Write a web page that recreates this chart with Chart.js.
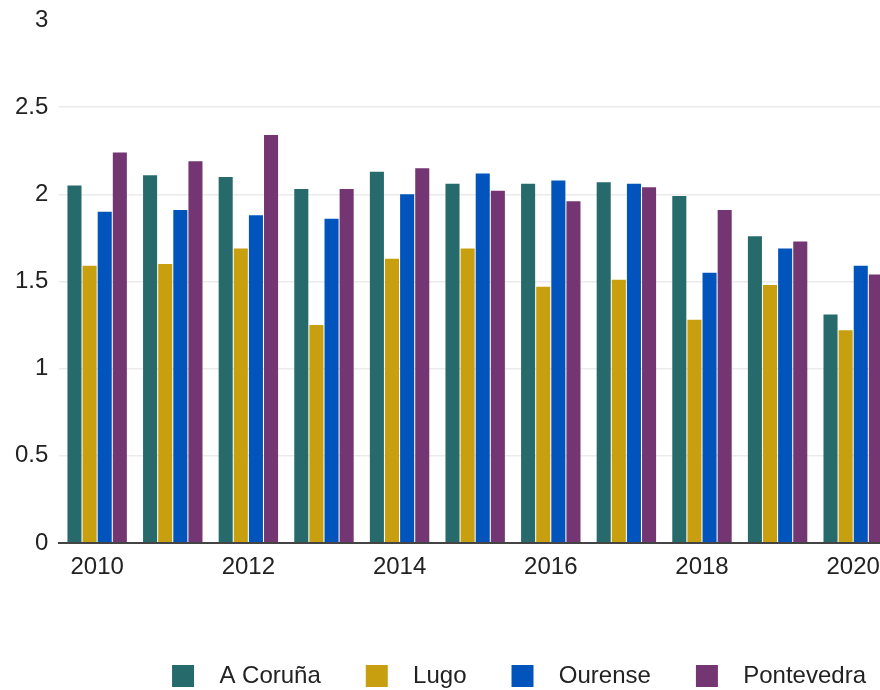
<!DOCTYPE html>
<html>
<head>
<meta charset="utf-8">
<script src="https://cdn.jsdelivr.net/npm/chart.js@4"></script>
<style>
    html, body { margin: 0; padding: 0; background: #fff; overflow: hidden; }
    #wrap { width: 892px; height: 690px; position: relative; }
</style>
</head>
<body>
<div id="wrap"><canvas id="provChart"></canvas></div>
<script>
const years = ["2010", "2011", "2012", "2013", "2014", "2015", "2016", "2017", "2018", "2019", "2020"];
const seriesNames = ["A Coruña", "Lugo", "Ourense", "Pontevedra"];
const aCoruna = [2.05, 2.11, 2.10, 2.03, 2.13, 2.06, 2.06, 2.07, 1.99, 1.76, 1.31];
const lugo = [1.59, 1.60, 1.69, 1.25, 1.63, 1.69, 1.47, 1.51, 1.28, 1.48, 1.22];
const ourense = [1.90, 1.91, 1.88, 1.86, 2.00, 2.12, 2.08, 2.06, 1.55, 1.69, 1.59];
const pontevedra = [2.24, 2.19, 2.34, 2.03, 2.15, 2.02, 1.96, 2.04, 1.91, 1.73, 1.54];
const yTicks = [0, 0.5, 1, 1.5, 2, 2.5, 3];

const colors = ["#266a6b", "#c8a00f", "#0254bd", "#733672"];

Chart.defaults.font.family = "'Liberation Sans', Arial, sans-serif";
Chart.defaults.font.size = 24;
Chart.defaults.color = "#222";

function makeSet(i, values) {
    return {
        label: seriesNames[i],
        data: values,
        backgroundColor: colors[i],
        borderWidth: 0,
        categoryPercentage: 0.8,
        barPercentage: 0.93
    };
}

const ctx = document.getElementById("provChart").getContext("2d");

new Chart(ctx, {
    type: "bar",
    data: {
        labels: years,
        datasets: [
            makeSet(0, aCoruna),
            makeSet(1, lugo),
            makeSet(2, ourense),
            makeSet(3, pontevedra)
        ]
    },
    options: {
        responsive: true,
        maintainAspectRatio: false,
        animation: false,
        layout: { padding: { top: 8, left: 4, right: 1, bottom: -8 } },
        scales: {
            x: {
                grid: { display: false },
                border: { display: true, color: "#444", width: 2 },
                ticks: {
                    autoSkip: false,
                    maxRotation: 0,
                    padding: 2,
                    callback: function (val, i) { return i % 2 === 0 ? years[i] : ""; }
                },
                afterFit: function (scale) { scale.height = 116; }
            },
            y: {
                min: 0,
                max: 3,
                afterBuildTicks: function (scale) {
                    scale.ticks = yTicks.map(v => ({ value: v }));
                },
                border: { display: false },
                grid: {
                    drawTicks: false,
                    color: function (c) {
                        if (c.tick.value === 3) return "rgba(0,0,0,0)";
                        if (c.tick.value === 0) return "#444";
                        return "#ebebeb";
                    },
                    lineWidth: function (c) { return c.tick.value === 0 ? 2 : 1.5; }
                },
                ticks: {
                    padding: 11,
                    font: { size: 24, lineHeight: 0.75 },
                    callback: function (val) { return String(val); }
                }
            }
        },
        plugins: {
            tooltip: { enabled: false },
            legend: {
                position: "bottom",
                align: "end",
                labels: {
                    boxWidth: 22,
                    boxHeight: 22,
                    padding: 5,
                    font: { size: 24, lineHeight: 1 },
                    generateLabels: function (chart) {
                        const items = Chart.defaults.plugins.legend.labels.generateLabels(chart);
                        items.forEach((item, i) => {
                            const tail = i === items.length - 1 ? "   " : "      ";
                            item.text = "  " + item.text + tail;
                            item.lineWidth = 0;
                        });
                        return items;
                    }
                }
            }
        }
    }
});
</script>
</body>
</html>
